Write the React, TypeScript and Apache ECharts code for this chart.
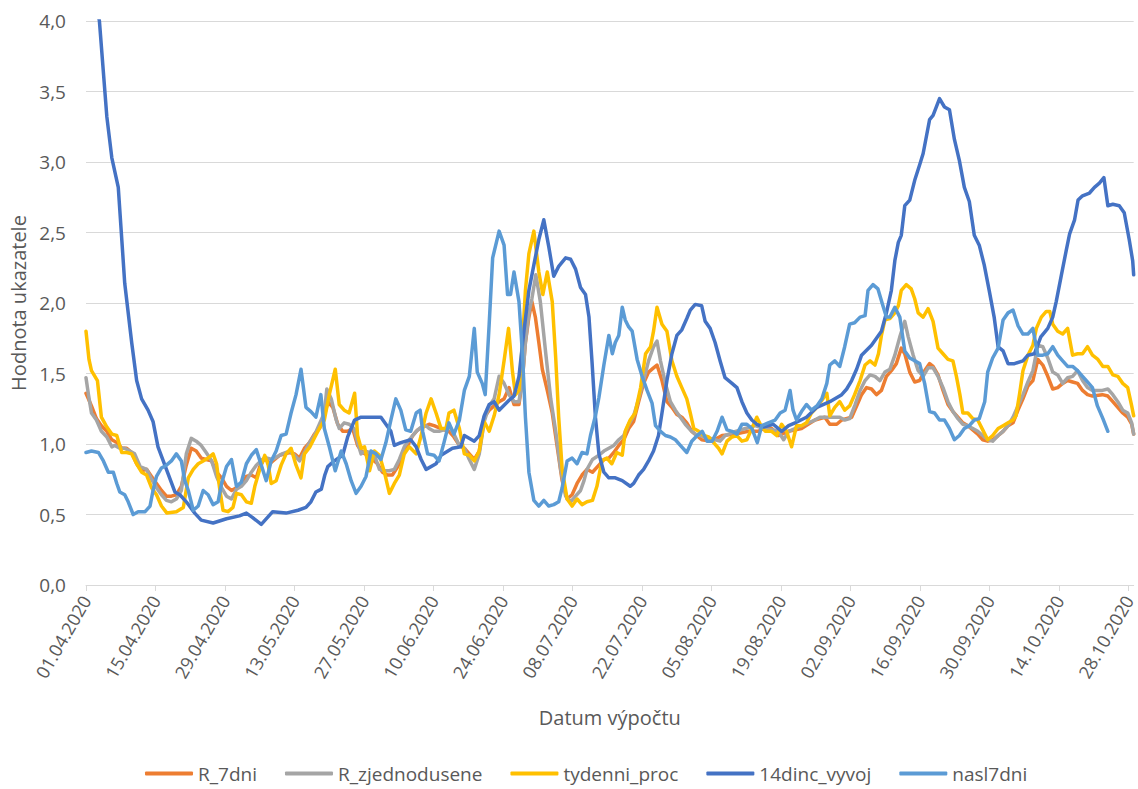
import React, { useEffect, useRef } from "react";
import * as echarts from "echarts";

// x = day offset from 01.04.2020, y = indicator value
const tickDates = [
  "01.04.2020", "15.04.2020", "29.04.2020", "13.05.2020", "27.05.2020", "10.06.2020",
  "24.06.2020", "08.07.2020", "22.07.2020", "05.08.2020", "19.08.2020", "02.09.2020",
  "16.09.2020", "30.09.2020", "14.10.2020", "28.10.2020",
];
const tickStep = 14;
const lastDay = 211;

const seriesNames = ["R_7dni", "R_zjednodusene", "tydenni_proc", "14dinc_vyvoj", "nasl7dni"];
const seriesColors = ["#ED7D31", "#A5A5A5", "#FFC000", "#4472C4", "#5B9BD5"];

const r7dni: number[][] = [[0,1.36],[1.1,1.27],[2.1,1.18],[3.1,1.13],[4.2,1.09],[5.2,1.03],[6.2,1.01],[7.2,0.97],[8.2,0.97],[9.2,0.94],[10.2,0.86],[11.2,0.81],[12.2,0.82],[13.2,0.77],[14.2,0.72],[15.2,0.67],[16.2,0.63],[17.2,0.63],[18.2,0.64],[19.2,0.70],[20.2,0.85],[21.2,0.97],[22.2,0.95],[23.2,0.90],[24.2,0.89],[25.3,0.88],[26.3,0.80],[27.3,0.76],[28.3,0.70],[29.3,0.67],[30.3,0.69],[31.3,0.72],[32.3,0.77],[33.3,0.78],[34.3,0.76],[35,0.84],[36,0.90],[37,0.86],[38,0.89],[39,0.92],[41,0.94],[42,0.93],[43,0.90],[44,0.97],[45,1.01],[46,1.07],[47,1.11],[48,1.20],[48.7,1.30],[49.7,1.26],[50.7,1.14],[51.7,1.09],[52.7,1.09],[53.7,1.11],[54.7,0.99],[55.7,0.94],[56.7,0.92],[57.7,0.89],[58.7,0.86],[59.7,0.80],[60.7,0.78],[61.7,0.78],[62.8,0.84],[63.8,0.92],[64.8,0.99],[65.8,1.06],[66.8,1.10],[67.8,1.12],[69.1,1.14],[70.1,1.13],[72.1,1.10],[73.1,1.09],[74.1,1.05],[75.2,0.99],[76.2,0.97],[77.2,0.93],[78.2,0.89],[79.2,0.95],[80.2,1.19],[81.2,1.24],[82.2,1.27],[83.2,1.30],[84.2,1.32],[85.2,1.40],[86.2,1.28],[87.2,1.28],[87.9,1.46],[88.5,1.72],[89.2,1.90],[89.8,2.01],[90.5,1.90],[91.2,1.72],[91.9,1.53],[92.9,1.38],[93.9,1.22],[94.9,0.98],[95.9,0.74],[96.9,0.61],[97.9,0.64],[98.9,0.72],[99.9,0.78],[100.9,0.82],[102,0.80],[103.3,0.85],[104.3,0.89],[105.3,0.90],[106.3,0.94],[107.3,0.99],[108.3,1.03],[109.3,1.11],[110.3,1.16],[111.3,1.30],[112.3,1.43],[113.3,1.51],[114.3,1.54],[115,1.56],[116,1.45],[117,1.30],[118,1.26],[119,1.21],[120,1.19],[121,1.15],[122,1.09],[123,1.06],[124,1.03],[126,1.02],[128.1,1.06],[130.8,1.07],[133.4,1.09],[135.4,1.09],[136.5,1.11],[138.1,1.11],[139.4,1.06],[141.5,1.09],[144.1,1.11],[146.8,1.17],[148.8,1.19],[149.8,1.14],[151.2,1.14],[152.2,1.17],[154.2,1.19],[155.2,1.27],[156.2,1.35],[157.2,1.40],[158.2,1.39],[159.2,1.35],[160.2,1.38],[161.2,1.48],[162.2,1.52],[163.2,1.57],[164.2,1.68],[164.9,1.64],[165.9,1.51],[166.9,1.44],[167.9,1.45],[168.9,1.52],[169.9,1.57],[170.6,1.55],[171.6,1.49],[172.6,1.38],[173.6,1.28],[174.6,1.23],[175.6,1.19],[176.6,1.15],[177.6,1.13],[178.6,1.10],[179.6,1.07],[180.6,1.03],[181.6,1.02],[182.6,1.03],[183.7,1.06],[184.7,1.09],[185.7,1.13],[186.7,1.15],[187.7,1.24],[188.7,1.32],[189.7,1.41],[190.7,1.45],[191.7,1.60],[192.7,1.56],[193.7,1.48],[194.7,1.39],[195.7,1.40],[196.7,1.43],[197.7,1.45],[198.7,1.44],[199.7,1.43],[200.7,1.38],[201.7,1.35],[202.7,1.34],[204.7,1.35],[205.8,1.34],[206.8,1.30],[207.8,1.26],[208.8,1.22],[209.8,1.19],[210.6,1.14],[211,1.07]];

const rZjednodusene: number[][] = [[0,1.47],[0.5,1.35],[1.1,1.22],[2.1,1.17],[3.1,1.09],[4.2,1.05],[5.2,0.98],[5.8,0.99],[6.8,0.97],[7.8,0.97],[8.8,0.95],[9.8,0.93],[10.9,0.84],[12.2,0.82],[13.2,0.75],[14.2,0.69],[15.2,0.64],[16.2,0.60],[17.2,0.59],[18.2,0.61],[19.2,0.67],[20.2,0.93],[21.2,1.04],[22.2,1.02],[23.2,0.99],[24.2,0.94],[25.3,0.88],[26.3,0.77],[27.3,0.69],[28.3,0.63],[29.3,0.61],[30.3,0.68],[31.3,0.70],[32.3,0.74],[33.3,0.80],[34.3,0.85],[35.5,0.89],[36.5,0.90],[37.5,0.89],[38.5,0.91],[39.5,0.93],[41,0.95],[42,0.92],[43,0.88],[44,0.94],[45,1.01],[46,1.06],[47,1.14],[48,1.22],[48.5,1.39],[49.4,1.32],[50.4,1.17],[51,1.11],[52,1.15],[53,1.14],[54,1.11],[54.7,1.01],[55.4,0.93],[56.1,0.95],[57.1,0.94],[58.1,0.92],[59.1,0.82],[60.1,0.81],[61.1,0.81],[62.1,0.82],[63.1,0.89],[64.1,0.98],[65.1,1.03],[66.5,1.09],[67.5,1.12],[68.5,1.13],[69.1,1.11],[70.1,1.09],[71.1,1.09],[72.1,1.10],[73.1,1.13],[74.1,1.07],[75.2,0.99],[76.2,0.97],[77.2,0.89],[78.2,0.82],[79.2,0.93],[80.2,1.16],[81.2,1.27],[82.2,1.32],[83.2,1.48],[84.2,1.43],[85.2,1.35],[86.2,1.30],[87.2,1.30],[87.9,1.46],[88.5,1.72],[89.2,1.93],[89.8,2.03],[90.6,2.20],[91.5,2.01],[92.6,1.64],[93.6,1.32],[94.6,1.09],[95.6,0.82],[96.6,0.63],[97.6,0.59],[98.6,0.63],[99.6,0.67],[100.3,0.74],[100.9,0.82],[102,0.89],[103.3,0.92],[104.3,0.95],[105.3,0.97],[106.3,0.99],[107.3,1.03],[108.3,1.06],[109.3,1.14],[110.3,1.20],[111.3,1.32],[112.3,1.45],[113.3,1.59],[114.3,1.69],[115,1.73],[115.7,1.59],[116.7,1.43],[117.7,1.30],[118.7,1.24],[119.7,1.19],[120.7,1.14],[121.7,1.10],[122.7,1.07],[123.7,1.06],[124.7,1.05],[126.7,1.03],[127.7,1.02],[128.7,1.06],[130.8,1.09],[132.8,1.11],[134.8,1.13],[136.5,1.11],[138.4,1.10],[139.4,1.09],[140.5,1.03],[141.5,1.09],[142.8,1.11],[144.8,1.14],[146.8,1.17],[147.8,1.19],[149.8,1.19],[151.8,1.19],[152.8,1.17],[153.8,1.18],[154.9,1.28],[155.9,1.38],[156.9,1.45],[157.9,1.49],[158.9,1.48],[159.9,1.45],[160.9,1.51],[161.9,1.53],[162.9,1.63],[163.9,1.76],[164.9,1.87],[165.6,1.76],[166.6,1.63],[167.6,1.52],[168.6,1.48],[169.6,1.54],[170.6,1.54],[171.6,1.48],[172.6,1.40],[173.6,1.30],[174.6,1.23],[175.6,1.18],[176.6,1.14],[177.6,1.13],[178.6,1.11],[179.6,1.09],[180.6,1.06],[181.6,1.03],[182.6,1.02],[183.7,1.06],[184.7,1.09],[185.7,1.13],[186.7,1.19],[187.7,1.27],[188.7,1.35],[189.7,1.44],[190.7,1.52],[191.7,1.70],[192.7,1.69],[193.7,1.61],[194.7,1.51],[195.7,1.49],[196.7,1.43],[197.7,1.47],[198.7,1.48],[199.7,1.52],[200.7,1.45],[201.7,1.40],[202.7,1.38],[204.7,1.38],[205.8,1.39],[206.8,1.35],[207.8,1.30],[208.8,1.24],[209.8,1.22],[210.6,1.15],[211,1.07]];

const tydenniProc: number[][] = [[0,1.80],[0.6,1.60],[1.1,1.52],[2.3,1.45],[3.1,1.19],[4.2,1.12],[5.2,1.07],[6.2,1.06],[7.2,0.94],[8.2,0.94],[9.2,0.93],[10.2,0.86],[11.2,0.80],[12.2,0.78],[13.2,0.69],[14.2,0.64],[15.2,0.56],[16.3,0.51],[18.2,0.52],[19.6,0.55],[20.6,0.76],[21.6,0.82],[22.6,0.86],[23.6,0.88],[24.6,0.90],[25.6,0.93],[26.3,0.86],[26.9,0.69],[27.6,0.53],[28.6,0.52],[29.6,0.55],[30.3,0.65],[31.3,0.64],[32.3,0.59],[33.3,0.58],[34,0.70],[35,0.82],[36,0.92],[36.7,0.85],[37.3,0.72],[38.3,0.74],[39.3,0.85],[40.3,0.93],[41.3,0.97],[42.3,0.85],[43.3,0.76],[44,0.93],[45.1,0.98],[46.1,1.05],[47,1.11],[48,1.17],[49,1.35],[50.2,1.53],[51,1.28],[52,1.24],[53,1.22],[54.1,1.36],[54.7,1.06],[55.4,0.97],[56.1,0.98],[57.1,0.81],[58.1,0.95],[59.1,0.92],[60.1,0.80],[61.1,0.65],[62.1,0.72],[63.1,0.78],[64.1,0.93],[65.1,0.98],[66.5,0.93],[67.5,1.06],[68.5,1.22],[69.5,1.32],[70.5,1.22],[71.5,1.11],[72.5,1.11],[73.1,1.22],[74.1,1.24],[75.2,1.11],[76.2,0.93],[77.2,0.92],[78.2,0.88],[79.2,0.95],[80.2,1.16],[81.2,1.09],[82.2,1.20],[83.2,1.35],[84.2,1.59],[85.1,1.82],[85.9,1.51],[86.5,1.35],[87.2,1.38],[87.9,1.72],[88.5,2.09],[89.2,2.35],[90.2,2.51],[91.2,2.22],[92,2.06],[92.9,2.22],[93.9,2.01],[94.6,1.61],[95.2,1.19],[95.9,0.82],[96.9,0.61],[97.9,0.56],[98.9,0.61],[99.9,0.57],[100.9,0.59],[102,0.60],[102.9,0.70],[103.9,0.88],[104.9,0.90],[105.9,0.86],[106.9,0.94],[108,0.92],[108.6,1.09],[109.6,1.17],[110.6,1.22],[111.7,1.40],[112.7,1.64],[113.7,1.69],[114.3,1.80],[115,1.97],[116,1.85],[117,1.80],[118,1.59],[119,1.48],[120,1.40],[121,1.32],[121.7,1.22],[122.4,1.11],[123.4,1.09],[124.4,1.06],[125.4,1.05],[126.4,1.01],[127.4,0.97],[128.1,0.93],[129.1,1.02],[130.1,1.05],[131.1,1.06],[132.1,1.02],[133.1,1.03],[134.1,1.11],[135.1,1.19],[135.8,1.14],[136.8,1.09],[138.1,1.09],[139.1,1.06],[140.1,1.14],[141.1,1.09],[142.1,0.98],[143.1,1.13],[144.1,1.13],[145.1,1.15],[146.1,1.22],[147.2,1.26],[148.2,1.31],[149.2,1.36],[149.8,1.20],[150.8,1.26],[151.8,1.30],[152.8,1.24],[153.8,1.27],[154.8,1.35],[155.9,1.45],[156.9,1.56],[157.9,1.59],[158.9,1.56],[159.6,1.64],[160.2,1.77],[160.9,1.88],[161.9,1.89],[162.9,1.93],[163.6,1.98],[164.2,2.09],[165.2,2.13],[166.2,2.10],[166.9,2.03],[167.6,1.93],[168.6,1.90],[169.6,1.96],[170.6,1.87],[171.6,1.68],[172.6,1.64],[173.6,1.60],[174.6,1.59],[175.3,1.48],[176,1.35],[176.6,1.22],[177.6,1.22],[178.6,1.18],[179.6,1.17],[180.6,1.10],[181.6,1.03],[182.6,1.06],[183.7,1.11],[184.7,1.13],[185.7,1.15],[186.7,1.17],[187.3,1.20],[188,1.35],[188.7,1.52],[189.7,1.63],[190.7,1.70],[191.4,1.82],[192.4,1.90],[193.4,1.94],[194.1,1.94],[194.7,1.85],[195.7,1.80],[196.7,1.78],[197.7,1.82],[198.7,1.63],[199.7,1.64],[200.7,1.64],[201.7,1.69],[202.7,1.63],[203.8,1.60],[204.8,1.55],[205.8,1.55],[206.8,1.49],[207.8,1.48],[208.8,1.43],[209.8,1.40],[210.6,1.27],[211,1.20]];

const vyvoj14dinc: number[][] = [[0,4.6],[1,4.35],[2,4.12],[2.7,4.0],[4.2,3.32],[5.2,3.03],[6.5,2.82],[7.8,2.14],[9.2,1.72],[10.2,1.45],[11.2,1.32],[12.5,1.24],[13.5,1.16],[14.5,0.98],[16.2,0.82],[17.9,0.66],[18.9,0.64],[20.2,0.59],[21.9,0.51],[23.2,0.46],[25.6,0.44],[28.3,0.47],[30.9,0.49],[32.3,0.51],[33.5,0.48],[35.3,0.43],[37.6,0.52],[40.3,0.51],[42.7,0.53],[44.3,0.55],[45.3,0.59],[46.3,0.66],[47.4,0.68],[48.1,0.78],[48.7,0.84],[50,0.88],[51.7,0.92],[52.7,1.05],[54.1,1.17],[55.4,1.19],[59.4,1.19],[60.4,1.14],[61.4,1.09],[62.1,0.99],[63.4,1.01],[65.4,1.03],[66.5,0.98],[67.5,0.89],[68.5,0.82],[70.5,0.86],[71.5,0.92],[73.8,0.97],[75.5,0.98],[76.2,1.06],[78.2,1.02],[79.2,1.06],[80.2,1.20],[81.2,1.28],[82.2,1.30],[83.2,1.24],[85.2,1.31],[86.2,1.34],[87.2,1.48],[88.2,1.80],[89.2,2.09],[90.2,2.27],[91.2,2.45],[92.2,2.59],[93.2,2.40],[94.2,2.19],[95.2,2.26],[96.6,2.32],[97.6,2.31],[98.6,2.24],[99.6,2.11],[100.6,2.06],[101.3,1.90],[101.9,1.59],[102.6,1.19],[103.3,0.93],[104.3,0.80],[105.3,0.76],[106.6,0.76],[108,0.74],[109.6,0.70],[110.3,0.72],[111.3,0.78],[112.3,0.82],[113.3,0.88],[114.3,0.95],[115.3,1.06],[116,1.22],[117,1.45],[118,1.64],[119,1.77],[120,1.81],[121,1.89],[121.7,1.95],[122.7,1.99],[124,1.98],[124.7,1.87],[125.7,1.82],[126.7,1.72],[127.7,1.59],[128.7,1.47],[130.1,1.43],[131.1,1.40],[132.1,1.30],[133.1,1.22],[134.1,1.17],[135.1,1.14],[136.5,1.12],[138.4,1.14],[140.1,1.09],[141.5,1.13],[142.8,1.15],[145.1,1.19],[147.2,1.26],[149.8,1.30],[152.2,1.35],[153.2,1.39],[154.2,1.45],[155.2,1.53],[156.2,1.63],[158.2,1.70],[160.2,1.80],[161.2,1.93],[162.2,2.09],[162.9,2.30],[163.6,2.43],[164.2,2.48],[164.9,2.69],[165.9,2.73],[166.9,2.87],[167.9,2.98],[168.6,3.06],[169.3,3.19],[169.9,3.30],[170.6,3.33],[171.9,3.45],[172.9,3.39],[173.9,3.37],[174.9,3.16],[175.9,3.01],[176.9,2.82],[177.9,2.72],[178.9,2.48],[179.9,2.41],[180.9,2.27],[181.9,2.09],[182.9,1.90],[183.7,1.69],[184.7,1.66],[185.7,1.57],[187,1.57],[188.7,1.59],[189.7,1.63],[191,1.64],[192.3,1.76],[193.7,1.82],[194.7,1.90],[195.4,2.01],[196.4,2.19],[197.4,2.37],[198.1,2.49],[199.1,2.59],[199.8,2.73],[200.7,2.76],[202.1,2.78],[203.1,2.82],[204.1,2.85],[205,2.89],[205.8,2.69],[206.8,2.70],[208.1,2.69],[209.1,2.64],[210.1,2.45],[210.8,2.30],[211,2.20]];

const nasl7dni: number[][] = [[0,0.94],[1.1,0.95],[2.5,0.94],[3.5,0.88],[4.5,0.80],[5.5,0.80],[6.2,0.72],[6.8,0.66],[7.8,0.64],[8.5,0.59],[9.5,0.50],[10.5,0.52],[11.9,0.52],[12.9,0.56],[13.5,0.67],[14.2,0.77],[15.2,0.83],[16.2,0.85],[17.2,0.88],[18.2,0.93],[19.2,0.88],[19.9,0.74],[20.6,0.67],[21.6,0.53],[22.6,0.56],[23.6,0.67],[24.6,0.64],[25.6,0.57],[26.6,0.59],[27.3,0.72],[28.3,0.84],[29.3,0.89],[30.3,0.70],[31.3,0.73],[32.3,0.86],[33.3,0.92],[34.3,0.96],[35.3,0.85],[36.3,0.74],[37.3,0.88],[38.3,0.95],[39.3,1.06],[40.3,1.07],[41.3,1.22],[42.3,1.35],[43.3,1.53],[44.3,1.26],[45.3,1.23],[46.3,1.19],[47.3,1.35],[48,1.11],[49,0.98],[50.2,0.81],[51.4,0.95],[52.4,0.86],[53.4,0.74],[54.4,0.65],[55.4,0.70],[56.4,0.77],[57.4,0.95],[58.4,0.93],[59.4,0.89],[60.4,1.01],[61.4,1.17],[62.4,1.32],[63.4,1.24],[64.4,1.10],[65.4,1.09],[66.5,1.22],[67.3,1.24],[67.8,1.09],[68.8,0.93],[70.1,0.92],[71.1,0.88],[72.1,1.01],[73.1,1.15],[74.1,1.07],[75.2,1.17],[76.2,1.38],[77.2,1.48],[78.2,1.82],[78.8,1.51],[79.8,1.43],[80.4,1.35],[81.2,1.85],[81.9,2.32],[83.2,2.51],[84.2,2.41],[84.9,2.06],[85.5,2.06],[86.2,2.22],[87.2,2.01],[87.9,1.64],[88.5,1.19],[89.2,0.80],[90.2,0.60],[91.2,0.56],[92.2,0.60],[93.2,0.56],[94.2,0.57],[95.2,0.59],[95.9,0.69],[96.9,0.88],[97.9,0.90],[98.9,0.86],[99.9,0.94],[100.9,0.93],[101.6,1.06],[102.6,1.20],[103.3,1.33],[104.3,1.56],[105.3,1.77],[106,1.64],[106.6,1.72],[107.3,1.77],[108,1.97],[108.6,1.88],[109.3,1.83],[110,1.80],[111,1.60],[112,1.48],[113,1.38],[114,1.29],[114.7,1.13],[115.7,1.09],[116.7,1.06],[117.7,1.05],[118.7,1.03],[119.7,0.99],[121,0.94],[122,1.02],[123.1,1.06],[124.1,1.09],[125.1,1.02],[126.1,1.02],[127.1,1.09],[128.1,1.19],[129.1,1.10],[130.1,1.09],[131.1,1.07],[132.1,1.14],[133.1,1.14],[134.1,1.11],[135.2,1.01],[136.1,1.13],[137.4,1.15],[138.8,1.17],[139.8,1.22],[140.8,1.24],[141.8,1.38],[142.4,1.24],[143.1,1.17],[144.1,1.23],[145.1,1.28],[146.1,1.24],[147.2,1.27],[148.2,1.32],[149.2,1.43],[149.8,1.56],[150.8,1.59],[151.8,1.55],[152.8,1.69],[153.8,1.85],[154.8,1.86],[155.9,1.90],[156.9,1.91],[157.5,2.09],[158.5,2.13],[159.5,2.10],[160.5,1.98],[161.2,1.90],[161.9,1.90],[162.9,1.97],[163.9,1.90],[164.9,1.66],[165.9,1.61],[166.9,1.59],[167.9,1.57],[168.9,1.43],[169.9,1.23],[170.9,1.22],[171.9,1.17],[172.9,1.17],[173.9,1.11],[174.9,1.03],[175.9,1.06],[176.9,1.11],[177.9,1.13],[178.9,1.17],[179.9,1.18],[181,1.30],[181.6,1.51],[182.6,1.61],[183.7,1.68],[184.7,1.88],[185.7,1.93],[186.7,1.95],[187.7,1.84],[188.7,1.78],[189.7,1.78],[190.7,1.82],[191.7,1.63],[192.7,1.63],[193.7,1.64],[194.7,1.69],[195.7,1.63],[196.7,1.59],[197.7,1.55],[198.7,1.55],[199.7,1.52],[200.7,1.48],[201.7,1.44],[202.7,1.40],[203.7,1.27],[204.8,1.18],[205.8,1.09]];

const allSeriesData = [r7dni, rZjednodusene, tydenniProc, vyvoj14dinc, nasl7dni];

const FONT = "'Open Sans', 'Noto Sans', sans-serif";
const TEXT_COLOR = "#595959";
const GRID_COLOR = "#D9D9D9";

export default function App() {
  const ref = useRef<HTMLDivElement>(null);

  useEffect(() => {
    if (!ref.current) return;
    const chart = echarts.init(ref.current, undefined, { renderer: "svg" });
    const tickValues = tickDates.map((_, i) => i * tickStep);

    const option = {
      animation: false,
      backgroundColor: "#ffffff",
      textStyle: { fontFamily: FONT },
      grid: { left: 86, right: 3, top: 21, bottom: 204, containLabel: false },
      xAxis: {
        type: "value",
        min: 0,
        max: lastDay,
        interval: tickStep,
        name: "Datum výpočtu",
        nameLocation: "middle",
        nameGap: 122,
        nameTextStyle: { fontSize: 20, color: TEXT_COLOR, fontFamily: FONT },
        axisLine: { show: true, lineStyle: { color: GRID_COLOR, width: 1 } },
        axisTick: { show: true, length: 6, lineStyle: { color: GRID_COLOR }, customValues: tickValues },
        axisLabel: {
          rotate: 60,
          margin: 12,
          fontSize: 18,
          color: TEXT_COLOR,
          fontFamily: FONT,
          customValues: tickValues,
          formatter: (v: number) => tickDates[Math.round(v / tickStep)] ?? "",
        },
        splitLine: { show: false },
      },
      yAxis: {
        type: "value",
        min: 0,
        max: 4,
        interval: 0.5,
        name: "Hodnota ukazatele",
        nameLocation: "middle",
        nameGap: 56,
        nameTextStyle: { fontSize: 20, color: TEXT_COLOR, fontFamily: FONT },
        axisLine: { show: false },
        axisTick: { show: false },
        axisLabel: {
          margin: 20,
          fontSize: 19,
          color: TEXT_COLOR,
          fontFamily: FONT,
          formatter: (v: number) => v.toFixed(1).replace(".", ","),
        },
        splitLine: { show: true, lineStyle: { color: GRID_COLOR, width: 1 } },
      },
      legend: {
        show: true,
        left: 140,
        top: 759,
        icon: "roundRect",
        itemWidth: 48,
        itemHeight: 4,
        itemGap: 28,
        textStyle: { fontSize: 19, color: TEXT_COLOR, fontFamily: FONT },
        data: seriesNames,
      },
      series: seriesNames.map((name, i) => ({
        name,
        type: "line",
        data: allSeriesData[i],
        showSymbol: false,
        symbol: "none",
        clip: true,
        color: seriesColors[i],
        lineStyle: { width: 3.5, color: seriesColors[i], cap: "round", join: "round" },
        z: 2 + i,
      })),
    };

    chart.setOption(option as any);
    return () => chart.dispose();
  }, []);

  return (
    <div
      ref={ref}
      style={{ position: "absolute", left: 0, top: 0, width: 1138, height: 789 }}
    />
  );
}
